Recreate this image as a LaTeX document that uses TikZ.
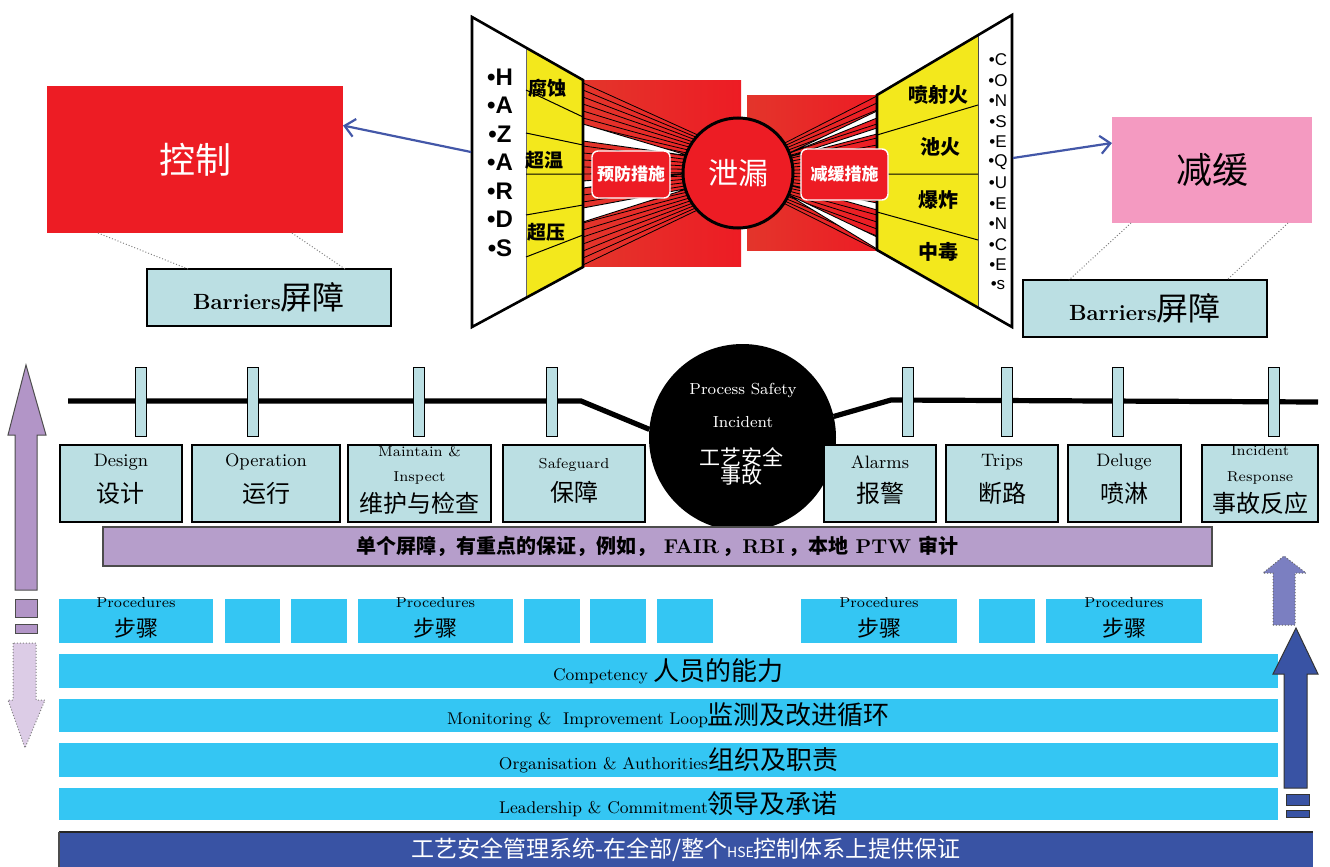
\documentclass[tikz,border=0pt]{standalone}
\usepackage{fontspec}
\newfontfamily\cjk{Noto Sans CJK SC}
\newfontfamily\ars{Liberation Sans}
\usetikzlibrary{arrows.meta}
\definecolor{cred}{HTML}{ED1C24}
\definecolor{cred2}{HTML}{E3352B}
\definecolor{cyel}{HTML}{F3E81C}
\definecolor{cbox}{HTML}{BBDFE3}
\definecolor{ccyan}{HTML}{34C6F3}
\definecolor{cpurp}{HTML}{B69ECB}
\definecolor{cpurpA}{HTML}{B295C7}
\definecolor{clpurp}{HTML}{DCCCE6}
\definecolor{cdblue}{HTML}{3953A4}
\definecolor{cmblue}{HTML}{7B7FC1}
\definecolor{cpink}{HTML}{F49AC1}
\definecolor{carrow}{HTML}{4357A8}
\newcommand\bx[7][]{\node[#1,minimum width={(#5-#3)*0.5pt},minimum height={(#6-#4)*0.5pt}] (#2) at ({(#3+#5)/2},{(#4+#6)/2}) {#7};}
\tikzset{
  every node/.style={inner sep=0pt,outer sep=0pt},
  lbox/.style={fill=cbox,draw=black,line width=0.6pt},
  post/.style={fill=cbox,draw=black,line width=0.5pt,minimum width=5.5pt,minimum height=34.5pt},
  cy/.style={fill=ccyan},
  en/.style={font=\fontsize{9}{9}\selectfont},
  ens/.style={font=\fontsize{7.2}{7.2}\selectfont},
  zh/.style={font=\cjk\fontsize{12}{12}\selectfont},
  zhs/.style={font=\cjk\fontsize{11}{11}\selectfont},
  zhb/.style={font=\cjk\bfseries\fontsize{9.5}{9.5}\selectfont},
  zhc/.style={font=\cjk\bfseries\fontsize{10}{10}\selectfont},
  fan/.style={line width=0.4pt,black},
  wedge/.style={fill=white},
  wline/.style={line width=0.45pt,black},
  haz/.style={font=\ars\bfseries\fontsize{12}{12}\selectfont},
  cons/.style={font=\ars\fontsize{8.5}{8.5}\selectfont},
  barrow/.style={draw=carrow,line width=1.1pt,-{Straight Barb[length=5pt,width=9pt,line width=1.1pt]}},
  dotl/.style={draw=gray,line width=0.5pt,densely dotted},
  mainline/.style={line width=2.6pt,black},
  ptext/.style={text=white,font=\fontsize{8}{8}\selectfont},
  pzh/.style={text=white,font=\cjk\fontsize{10.5}{10.5}\selectfont},
  bartxt/.style={font=\bfseries\fontsize{11}{11}\selectfont},
}
\begin{document}
\begin{tikzpicture}[x=0.5pt,y=-0.5pt]
\useasboundingbox (0,0) rectangle (1330,867);
% ---------- bow tie: red areas and fans
\shade[left color=cred2,right color=cred] (583,80) rectangle (741,266);
\shade[left color=cred2,right color=cred] (747,95) rectangle (877,250);
\foreach \y in {83,90,...,266} \draw[fan] (583,\y) -- (700,{136+(\y-83)*0.4});
\fill[wedge] (583,124) -- (690,156) -- (583,141) -- cycle;
\draw[wline] (583,124) -- (690,156) -- (583,141);
\fill[wedge] (583,181) -- (690,173) -- (583,188) -- cycle;
\draw[wline] (583,181) -- (690,173) -- (583,188);
\fill[wedge] (583,208) -- (690,188) -- (583,222) -- cycle;
\draw[wline] (583,208) -- (690,188) -- (583,222);
\foreach \y in {96,103,...,250} \draw[fan] (877,\y) -- (775,{148+(\y-96)*0.33});
\fill[wedge] (877,111) -- (785,155) -- (877,118) -- cycle;
\draw[wline] (877,111) -- (785,155) -- (877,118);
\fill[wedge] (877,128) -- (785,158) -- (877,134) -- cycle;
\draw[wline] (877,128) -- (785,158) -- (877,134);
\fill[wedge] (877,203) -- (785,184) -- (877,210) -- cycle;
\draw[wline] (877,203) -- (785,184) -- (877,210);
\fill[wedge] (877,237) -- (785,193) -- (877,249) -- cycle;
\draw[wline] (877,237) -- (785,193) -- (877,249);
% left wing
\fill[white] (472,17) -- (583,80) -- (583,267) -- (472,327) -- cycle;
\fill[cyel] (526,48) -- (583,80) -- (583,267) -- (526,297) -- cycle;
\draw[black!60,line width=0.5pt] (526,48) -- (526,297);
\draw[line width=0.5pt] (526,90) -- (583,117) (526,133) -- (583,145) (526,174) -- (583,174) (526,215) -- (583,205) (526,257) -- (583,235);
\draw[line width=1.3pt] (472,17) -- (583,80) -- (583,267) -- (472,327) -- cycle;
% right wing
\fill[white] (877,95) -- (1012,15) -- (1012,327) -- (877,250) -- cycle;
\fill[cyel] (877,95) -- (978,35) -- (978,308) -- (877,250) -- cycle;
\draw[black!70,line width=0.5pt] (978,35) -- (978,308);
\draw[line width=0.5pt] (877,135) -- (978,105) (877,174) -- (978,174) (877,212) -- (978,240);
\draw[line width=1.3pt] (877,95) -- (1012,15) -- (1012,327) -- (877,250) -- cycle;
% circle and measure boxes
\node[circle,fill=cred,draw=black,line width=1.5pt,minimum size=55pt,text=white,font=\cjk\fontsize{15}{15}\selectfont] (leak) at (738,173) {泄漏};
\bx[fill=cred,draw=white,line width=0.7pt,rounded corners=3pt,text=white,font=\cjk\bfseries\fontsize{8.5}{8.5}\selectfont]{prev}{592}{151}{670}{198}{预防措施}
\bx[fill=cred,draw=white,line width=0.7pt,rounded corners=3pt,text=white,font=\cjk\bfseries\fontsize{8.5}{8.5}\selectfont]{mitm}{801}{149}{888}{200}{减缓措施}
% texts in wings
\foreach \ch [count=\i from 0] in {H,A,Z,A,R,D,S} \node[haz] (hz\i) at (500,{77+28.5*\i}) {•\ch};
\foreach \ch [count=\i from 0] in {C,O,N,S,E,Q,U,E,N,C,E,s} \node[cons] (cq\i) at (998,{60+20.5*\i}) {•\ch};
\node[zhb] (h1) at (547,88) {腐蚀};
\node[zhb] (h2) at (544,160) {超温};
\node[zhb] (h3) at (546,232) {超压};
\node[zhc] (c1) at (938,95) {喷射火};
\node[zhc] (c2) at (940,147) {池火};
\node[zhc] (c3) at (938,200) {爆炸};
\node[zhc] (c4) at (938,252) {中毒};
% ---------- control / mitigation
\bx[fill=cred,text=white,font=\cjk\fontsize{18}{18}\selectfont]{ctrl}{47}{86}{343}{233}{控制}
\bx[fill=cpink,text=black,font=\cjk\fontsize{18}{18}\selectfont]{mit}{1112}{117}{1312}{223}{减缓}
\bx[lbox]{barL}{147}{269}{391}{326}{{\bfseries\fontsize{11}{11}\selectfont Barriers}{\cjk\fontsize{16}{16}\selectfont 屏障}}
\bx[lbox]{barR}{1023}{280}{1267}{337}{{\bfseries\fontsize{11}{11}\selectfont Barriers}{\cjk\fontsize{16}{16}\selectfont 屏障}}
\coordinate (hazW) at (471,152);
\coordinate (conE) at (1013,158);
\draw[barrow] (hazW) -- ([yshift=17pt]ctrl.east);
\draw[barrow] (conE) -- ([yshift=13.5pt]mit.west);
\draw[dotl] ([xshift=-48.5pt]ctrl.south) -- ([xshift=-40.5pt]barL.north);
\draw[dotl] ([xshift=48.5pt]ctrl.south) -- ([xshift=38pt]barL.north);
\draw[dotl] ([xshift=-40.5pt]mit.south) -- ([xshift=-38pt]barR.north);
\draw[dotl] ([xshift=38pt]mit.south) -- ([xshift=41pt]barR.north);
% ---------- middle barrier line
\node[circle,fill=black,minimum size=93.5pt] (psi) at (742.5,437.5) {};
\coordinate (mlL) at (68,401);
\coordinate (mlR) at (1318,402);
\draw[mainline] (mlL) -- (581,401) -- (psi.175);
\draw[mainline] (psi.13) -- (891,400) -- (mlR);
\foreach \x [count=\i] in {141,253,419,552,908,1007,1118,1274} \node[post] (post\i) at (\x,401.5) {};
\bx[lbox]{bDes}{60}{445}{182}{522}{}
\bx[lbox]{bOpe}{192}{445}{340}{522}{}
\bx[lbox]{bMai}{348}{445}{491}{522}{}
\bx[lbox]{bSaf}{503}{445}{645}{522}{}
\bx[lbox]{bAla}{824}{445}{936}{522}{}
\bx[lbox]{bTri}{946}{445}{1058}{522}{}
\bx[lbox]{bDel}{1068}{445}{1181}{522}{}
\bx[lbox]{bInc}{1202}{445}{1318}{522}{}
\node[en] (tDes) at (121,462) {Design};
\node[zh] (zDes) at (121,493) {设计};
\node[en] (tOpe) at (266,462) {Operation};
\node[zh] (zOpe) at (266,493) {运行};
\node[ens] (tMai1) at (419.5,451) {Maintain \&};
\node[ens] (tMai2) at (419.5,478) {Inspect};
\node[zh] (zMai) at (419.5,503) {维护与检查};
\node[ens] (tSaf) at (574,465) {Safeguard};
\node[zh] (zSaf) at (574,492) {保障};
\node[en] (tAla) at (880,462) {Alarms};
\node[zh] (zAla) at (880,493) {报警};
\node[en] (tTri) at (1002,462) {Trips};
\node[zh] (zTri) at (1002,493) {断路};
\node[en] (tDel) at (1124,462) {Deluge};
\node[zh] (zDel) at (1124,493) {喷淋};
\node[ens] (tInc1) at (1260,451) {Incident};
\node[ens] (tInc2) at (1260,478) {Response};
\node[zh] (zInc) at (1260,503) {事故反应};
\node[ptext] (ps1) at (743,390) {Process Safety};
\node[ptext] (ps2) at (743,422) {Incident};
\node[pzh] (ps3) at (741,457) {工艺安全};
\node[pzh] (ps4) at (741,476) {事故};
% ---------- purple bar
\bx[fill=cpurp,draw=black!70,line width=0.6pt,font=\bfseries\fontsize{10}{10}\selectfont]{pbar}{103}{527}{1212}{566}{{\cjk 单个屏障，有重点的保证，例如，}\ FAIR\,{\cjk ，}RBI\,{\cjk ，}{\cjk 本地} PTW {\cjk 审计}}
% ---------- procedures
\bx[cy]{pr1}{59}{599}{213}{643}{}
\bx[cy]{pr2}{225}{599}{280}{643}{}
\bx[cy]{pr3}{291}{599}{347}{643}{}
\bx[cy]{pr4}{358}{599}{513}{643}{}
\bx[cy]{pr5}{524}{599}{580}{643}{}
\bx[cy]{pr6}{590}{599}{646}{643}{}
\bx[cy]{pr7}{657}{599}{713}{643}{}
\bx[cy]{pr8}{801}{599}{957}{643}{}
\bx[cy]{pr9}{979}{599}{1035}{643}{}
\bx[cy]{pr10}{1046}{599}{1202}{643}{}
\foreach \x [count=\i] in {136,435.5,879,1124} {
  \node[ens] (tPr\i) at (\x,603) {Procedures};
  \node[zhs] (zPr\i) at (\x,628) {步骤};
}
% ---------- foundation bars
\bx[cy]{comp}{59}{654}{1278}{688}{{\fontsize{8.5}{9}\selectfont Competency }{\cjk\fontsize{13}{13}\selectfont 人员的能力}}
\bx[cy]{moni}{59}{699}{1278}{732}{{\fontsize{8.5}{9}\selectfont Monitoring \&\ \ Improvement Loop}{\cjk\fontsize{13}{13}\selectfont 监测及改进循环}}
\bx[cy]{orga}{59}{743}{1278}{777}{{\fontsize{8.5}{9}\selectfont Organisation \& Authorities}{\cjk\fontsize{13}{13}\selectfont 组织及职责}}
\bx[cy]{lead}{59}{788}{1278}{820}{{\fontsize{8.5}{9}\selectfont Leadership \& Commitment}{\cjk\fontsize{13}{13}\selectfont 领导及承诺}}
\bx[fill=cdblue,text=white,font=\cjk\fontsize{11.5}{12}\selectfont]{hse}{59}{832}{1313}{867}{工艺安全管理系统-在全部/整个{\fontsize{7}{7}\selectfont HSE}控制体系上提供保证}
\draw[black!85,line width=1pt] (hse.north west) -- (hse.north east);
\draw[black!70,line width=0.6pt] (hse.north west) -- (hse.south west);
% ---------- side arrows
\filldraw[fill=cpurpA,draw=black!70,line width=0.5pt] (15,590) -- (15,435) -- (8,435) -- (26,365) -- (46,435) -- (37,435) -- (37,590) -- cycle;
\filldraw[fill=cpurpA,draw=black!70,line width=0.5pt] (15,599) rectangle (37,617);
\filldraw[fill=cpurpA,draw=black!70,line width=0.5pt] (15,624) rectangle (37,633);
\filldraw[fill=clpurp,draw=black!50,densely dotted,line width=0.5pt] (13,643) -- (13,700) -- (8,700) -- (25,748) -- (45,700) -- (36,700) -- (36,643) -- cycle;
\filldraw[fill=cmblue,draw=black!60,densely dotted,line width=0.5pt] (1273,625) -- (1273,573) -- (1263,573) -- (1284,556) -- (1306,573) -- (1295,573) -- (1295,625) -- cycle;
\filldraw[fill=cdblue,draw=black!80,line width=0.5pt] (1284,788) -- (1284,674) -- (1273,674) -- (1296,628) -- (1318,674) -- (1307,674) -- (1307,788) -- cycle;
\filldraw[fill=cdblue,draw=black!80,line width=0.5pt] (1286,794) rectangle (1309,805);
\filldraw[fill=cdblue,draw=black!80,line width=0.5pt] (1286,810) rectangle (1309,817);
\end{tikzpicture}
\end{document}
